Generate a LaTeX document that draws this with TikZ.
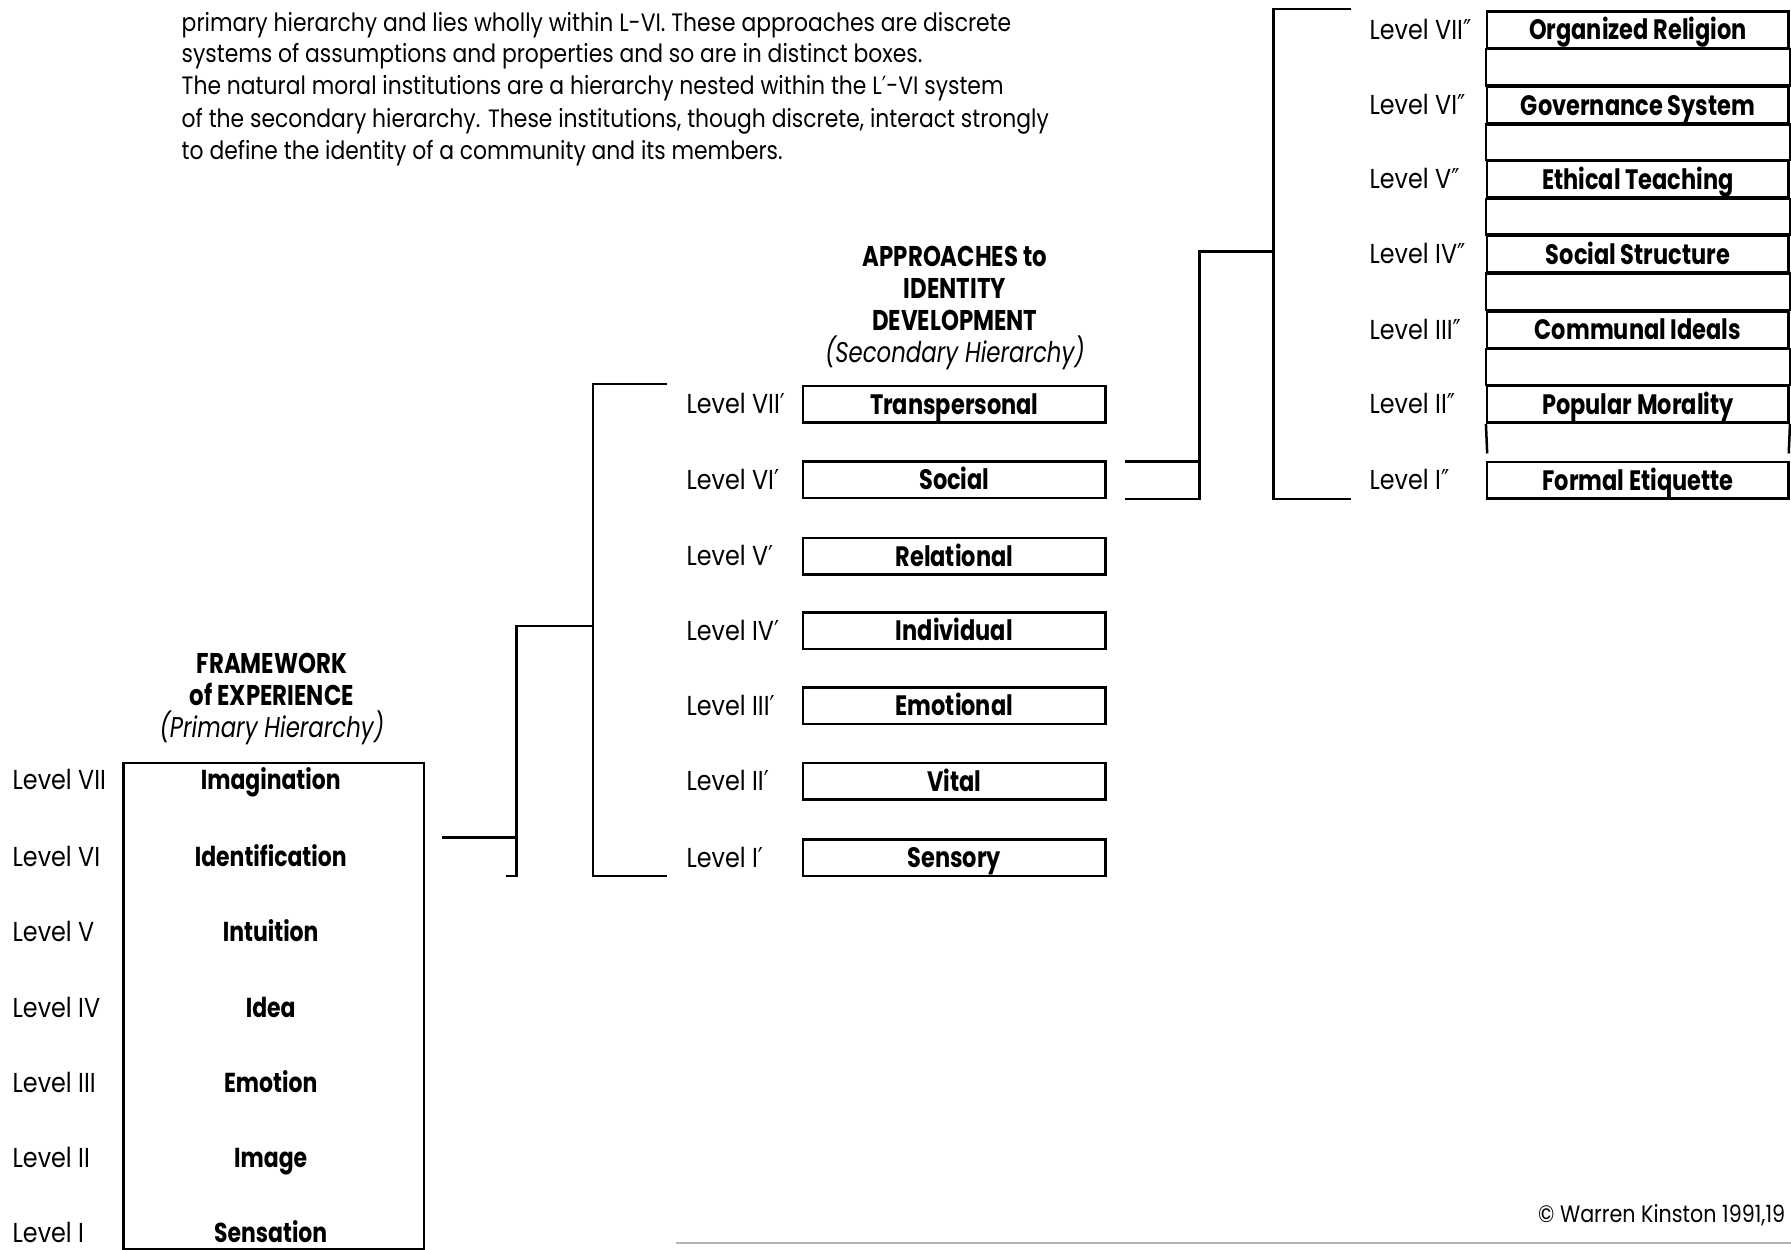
\documentclass[tikz,border=0pt]{standalone}
\usepackage{fontspec}
\setmainfont{Poppins}[FakeStretch=0.8]
\newfontfamily\regf{Poppins}[FakeStretch=0.87]
\newfontfamily\primef{DejaVu Sans}[FakeStretch=0.8]
\newcommand\pr{{\primef ′}}
\newcommand\dpr{{\primef ″}}
\begin{document}
\begin{tikzpicture}[x=0.5pt,y=-0.5pt,line width=1.1pt,
  lvl/.style={anchor=west,inner sep=0pt,text height=8.4pt,text depth=0pt,font=\regf\fontsize{12}{14}\selectfont},
  ptxt/.style={inner sep=0pt,text height=8.4pt,text depth=0pt,font=\fontsize{12}{14}\selectfont\bfseries},
  ttl/.style={align=center,inner sep=0pt,font=\fontsize{12.5}{14}\selectfont},
  sbox/.style={draw,line width=1.1pt,minimum width=132.5pt,minimum height=16pt,inner sep=0pt,
    text height=8.8pt,text depth=0pt,font=\fontsize{12.3}{14}\selectfont\bfseries},
  para/.style={anchor=west,inner sep=0pt,text height=7.5pt,text depth=0pt,font=\regf\fontsize{11}{14}\selectfont},
  conn/.style={line width=1.1pt}]
\useasboundingbox (0,0) rectangle (1568,1094);

% ---------- paragraph ----------
\node[para] (p1) at (158,20) {primary hierarchy and lies wholly within L-VI. These approaches are discrete};
\node[para] (p2) at (158,47) {systems of assumptions and properties and so are in distinct boxes.};
\node[para] (p3) at (158,75) {The natural moral institutions are a hierarchy nested within the L\pr-VI system};
\node[para] (p4) at (158,104) {of the secondary hierarchy. These institutions, though discrete, interact strongly};
\node[para] (p5) at (158,132) {to define the identity of a community and its members.};

% ---------- primary hierarchy ----------
\node[ttl] (pt) at (238,612) {\bfseries FRAMEWORK\\\bfseries of EXPERIENCE\\\itshape (Primary Hierarchy)};
\node[draw,line width=1.1pt,anchor=north west,minimum width=131.5pt,minimum height=213pt,inner sep=0pt] (pbox) at (107,667) {};
\foreach \n/\r/\t/\y in {a/VII/Imagination/683,b/VI/Identification/750,c/V/Intuition/816,d/IV/Idea/882,e/III/Emotion/948,f/II/Image/1014,g/I/Sensation/1079}{
  \node[lvl] (pl\n) at (10,\y) {Level \r};
  \node[ptxt] (pi\n) at (237,\y) {\t};
}

% ---------- secondary hierarchy ----------
\node[ttl] (st) at (836,270) {\bfseries APPROACHES to\\\bfseries IDENTITY\\\bfseries DEVELOPMENT\\\itshape (Secondary Hierarchy)};
\foreach \n/\r/\t/\y in {a/VII/Transpersonal/354,b/VI/Social/420,c/V/Relational/487,d/IV/Individual/552,e/III/Emotional/618,f/II/Vital/684,g/I/Sensory/751}{
  \node[lvl] (sl\n) at (600,\y) {Level \r\pr};
  \node[sbox] (sb\n) at (835.5,\y) {\t};
}

% ---------- tertiary hierarchy ----------
\foreach \n/\r/\t/\y in {a/VII/Organized Religion/26,b/VI/Governance System/92,c/V/Ethical Teaching/157,d/IV/Social Structure/222.5,e/III/Communal Ideals/288.5,f/II/Popular Morality/354,g/I/Formal Etiquette/420.5}{
  \node[lvl] (tl\n) at (1198,\y) {Level \r\dpr};
  \node[sbox,minimum width=132pt] (tb\n) at (1434,\y) {\t};
}
% empty bands between the institution boxes
\draw (tba.south west) rectangle (tbb.north east);
\draw (tbb.south west) rectangle (tbc.north east);
\draw (tbc.south west) rectangle (tbd.north east);
\draw (tbd.south west) rectangle (tbe.north east);
\draw (tbe.south west) rectangle (tbf.north east);
\coordinate (gl) at (1302,397);
\coordinate (gr) at (1566,397);
\draw (tbf.south west) -- (gl);
\draw (tbf.south east) -- (gr);

% ---------- connectors ----------
\coordinate (a1) at (387,733);
\coordinate (a2) at (452,733);
\coordinate (a3) at (452,548);
\coordinate (a4) at (452,767);
\coordinate (a5) at (443,767);
\coordinate (b1) at (519,548);
\coordinate (b2) at (519,336);
\coordinate (b3) at (584,336);
\coordinate (b4) at (519,767);
\coordinate (b5) at (584,767);
\draw[conn] (a1) -- (a2);
\draw[conn] (a5) -- (a4) -- (a3) -- (b1);
\draw[conn] (b3) -- (b2) -- (b4) -- (b5);

\coordinate (c1) at (985,404);
\coordinate (c2) at (1050,404);
\coordinate (c3) at (985,437);
\coordinate (c4) at (1050,437);
\coordinate (c5) at (1050,220);
\coordinate (d1) at (1115,220);
\coordinate (d2) at (1115,8);
\coordinate (d3) at (1183,8);
\coordinate (d4) at (1115,437);
\coordinate (d5) at (1183,437);
\draw[conn] (c1) -- (c2);
\draw[conn] (c3) -- (c4) -- (c5) -- (d1);
\draw[conn] (d3) -- (d2) -- (d4) -- (d5);

% ---------- copyright and scan edge ----------
\node[anchor=east,inner sep=0pt,font=\regf\fontsize{10.4}{13}\selectfont] (copy) at (1564,1064) {© Warren Kinston 1991,19};
\coordinate (e1) at (592,1088);
\coordinate (e2) at (1568,1088);
\draw[gray!60,line width=1pt] (e1) -- (e2);
\end{tikzpicture}
\end{document}
